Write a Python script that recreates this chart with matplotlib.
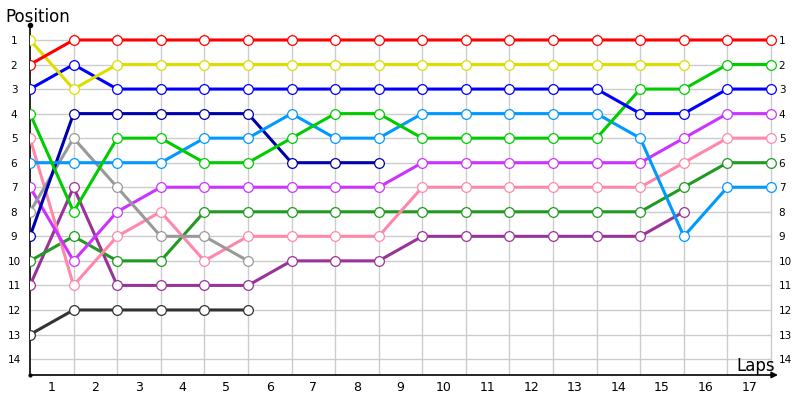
import matplotlib.pyplot as plt
import numpy as np

laps = np.arange(0, 18)

# positions per lap (lap 0 = start); shorter lists = retired drivers
red = [2, 1, 1, 1, 1, 1, 1, 1, 1, 1, 1, 1, 1, 1, 1, 1, 1, 1]
yellow = [1, 3, 2, 2, 2, 2, 2, 2, 2, 2, 2, 2, 2, 2, 2, 2]
blue = [3, 2, 3, 3, 3, 3, 3, 3, 3, 3, 3, 3, 3, 3, 4, 4, 3, 3]
green = [4, 8, 5, 5, 6, 6, 5, 4, 4, 5, 5, 5, 5, 5, 3, 3, 2, 2]
light_blue = [6, 6, 6, 6, 5, 5, 4, 5, 5, 4, 4, 4, 4, 4, 5, 9, 7, 7]
dark_blue = [9, 4, 4, 4, 4, 4, 6, 6, 6]
gray = [8, 5, 7, 9, 9, 10]
violet = [7, 10, 8, 7, 7, 7, 7, 7, 7, 6, 6, 6, 6, 6, 6, 5, 4, 4]
pink = [5, 11, 9, 8, 10, 9, 9, 9, 9, 7, 7, 7, 7, 7, 7, 6, 5, 5]
dark_green = [10, 9, 10, 10, 8, 8, 8, 8, 8, 8, 8, 8, 8, 8, 8, 7, 6, 6]
plum = [11, 7, 11, 11, 11, 11, 10, 10, 10, 9, 9, 9, 9, 9, 9, 8]
charcoal = [13, 12, 12, 12, 12, 12]

series = [
    (charcoal, '#333333'),
    (plum, '#993399'),
    (dark_green, '#229922'),
    (pink, '#FF88AA'),
    (violet, '#CC33FF'),
    (gray, '#999999'),
    (dark_blue, '#0000AA'),
    (light_blue, '#0099FF'),
    (green, '#00CC00'),
    (blue, '#0000FF'),
    (yellow, '#DDDD00'),
    (red, '#FF0000'),
]

positions = np.arange(1, 15)
pos_labels = [str(p) for p in positions]
lap_labels = [str(i) for i in range(1, 18)]

fig = plt.figure(figsize=(8, 4), dpi=100)
ax = fig.add_axes([30 / 800, 25 / 400, 748 / 800, 350 / 400])

x_max = 748 / ((771 - 30) / 17)
ax.set_xlim(0, x_max)
ax.set_ylim(14.65, 0.39)

# grid
ax.hlines(positions, 0, 17, color='#CCCCCC', lw=1, zorder=1)
ax.vlines(laps[1:], 14.65, 0.7, color='#CCCCCC', lw=1, zorder=1)

for vals, col in series:
    ax.plot(laps[:len(vals)], vals, color=col, lw=2.2, marker='o', ms=7,
            mfc='white', mec=col, mew=0.9, zorder=3)

for s in ['top', 'right', 'bottom']:
    ax.spines[s].set_visible(False)
ax.spines['left'].set_linewidth(1.2)
ax.annotate('', xy=(1.0, 0), xytext=(0, 0), xycoords='axes fraction',
            arrowprops=dict(arrowstyle='-|>', color='black', lw=1.2,
                            mutation_scale=9, shrinkA=0, shrinkB=0))
ax.plot([0], [0.39], marker='o', ms=3, color='black', clip_on=False)
ax.plot([0], [14.65], marker='o', ms=2, color='black', clip_on=False)

# left position labels, centred
ax.set_yticks(positions)
ax.set_yticklabels(pos_labels)
ax.tick_params(axis='y', length=0, labelsize=7.5, pad=11.5)
for lab in ax.get_yticklabels():
    lab.set_horizontalalignment('center')

# right position labels, just after the last lap
ax_r = ax.twinx()
ax_r.set_ylim(ax.get_ylim())
ax_r.set_yticks(positions)
ax_r.set_yticklabels(pos_labels)
ax_r.tick_params(axis='y', length=0, labelsize=7.5, pad=0.5)
for s in ax_r.spines.values():
    s.set_visible(False)

ax.set_xticks(laps[1:] - 0.5)
ax.set_xticklabels(lap_labels)
ax.tick_params(axis='x', length=0, labelsize=9, pad=4)

fig.text(5 / 800, 1 - 22 / 400, 'Position', fontsize=12, ha='left', va='baseline')
fig.text(775 / 800, 1 - 371 / 400, 'Laps', fontsize=12, ha='right', va='baseline')

fig.savefig('out.png', dpi=100)
